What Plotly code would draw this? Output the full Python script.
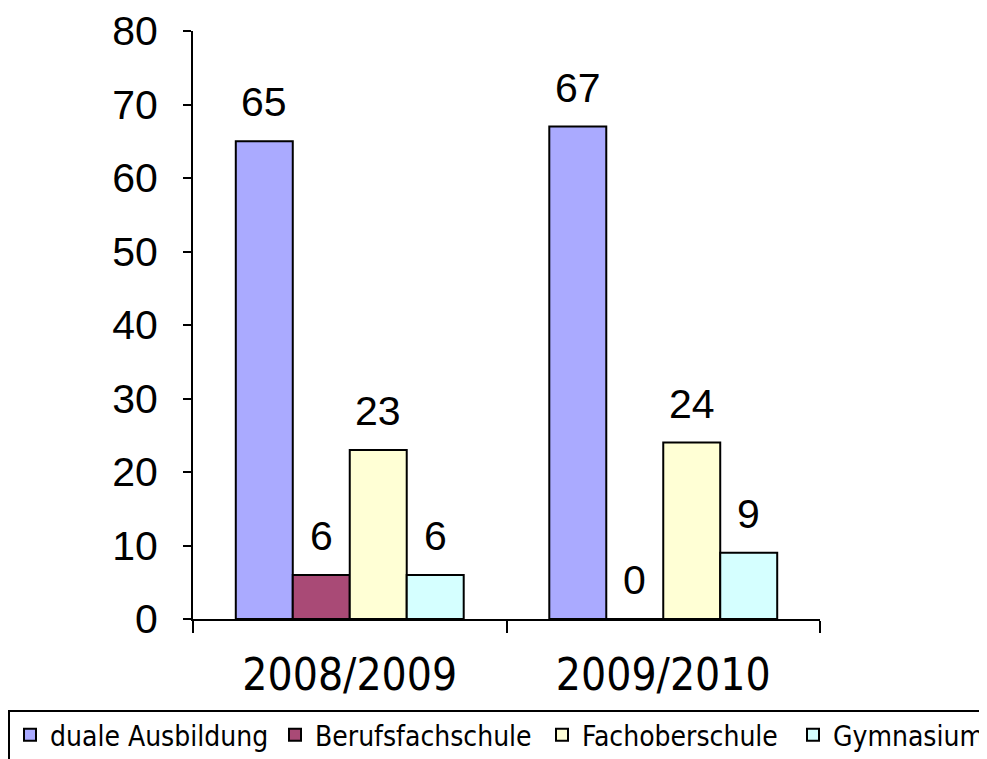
import plotly.graph_objects as go

categories = ["2008/2009", "2009/2010"]
series_names = ["duale Ausbildung", "Berufsfachschule", "Fachoberschule", "Gymnasium"]
duale = [65, 67]
berufsfach = [6, 0]
fachober = [23, 24]
gymnasium = [6, 9]
colors = ["#AAAAFF", "#A94A76", "#FFFFD5", "#D5FFFF"]
y_ticks = [0, 10, 20, 30, 40, 50, 60, 70, 80]

values = [duale, berufsfach, fachober, gymnasium]
bargap = 0.273
bw = (1 - bargap) / len(series_names)

# page offset (body margin) = 8 px
W, H = 987, 759
ml, mr, mt, mb = 185, 175, 23, 148
pw = W - ml - mr
ph = H - mt - mb

legend_text_starts = [50, 315, 582, 833]  # page px where legend labels begin
legend_font = dict(family="DejaVu Sans Condensed, Liberation Sans", size=28, color="black")

fig = go.Figure()
annotations = []
legend_names = ["legend", "legend2", "legend3", "legend4"]
for j, (name, vals, col) in enumerate(zip(series_names, values, colors)):
    fig.add_trace(go.Bar(
        x=categories, y=vals, name=name, legend=legend_names[j],
        marker=dict(color=col, line=dict(color="black", width=2)),
    ))
    for ci, v in enumerate(vals):
        annotations.append(dict(
            x=ci + (j - 1.5) * bw, y=v, xref="x", yref="y",
            text=str(v), showarrow=False, yanchor="middle", yshift=39,
            font=dict(family="Liberation Sans, Arial", size=41, color="black"),
        ))

legend_y = (ph + mt - (735 - 8)) / ph
legends = {}
for j, ln in enumerate(legend_names):
    lx = (legend_text_starts[j] - 8 - 40 - ml) / pw
    legends[ln] = dict(
        orientation="h", x=lx, y=legend_y, xanchor="left", yanchor="middle",
        borderwidth=0, bgcolor="rgba(0,0,0,0)", font=legend_font,
        itemwidth=30,
    )

fig.update_layout(
    width=W, height=H,
    margin=dict(l=ml, r=mr, t=mt, b=mb, autoexpand=False),
    paper_bgcolor="white", plot_bgcolor="white",
    barmode="group", bargap=bargap, bargroupgap=0,
    annotations=annotations,
    showlegend=True,
    shapes=[dict(
        type="rect", xref="paper", yref="paper",
        x0=(9 - 8 - ml) / pw, x1=(W + 20 - ml) / pw,
        y0=(ph + mt - (711 - 8)) / ph, y1=(ph + mt - (H + 20)) / ph,
        line=dict(color="black", width=2), fillcolor="rgba(0,0,0,0)", layer="below",
    )],
    xaxis=dict(
        type="category", range=[-0.5, 1.5],
        showline=True, linecolor="black", linewidth=2,
        ticks="outside", tickson="boundaries", ticklen=12, tickwidth=2, tickcolor="black",
        tickfont=dict(family="DejaVu Sans Condensed, Liberation Sans", size=44, color="black"),
        ticklabelstandoff=16, showgrid=False,
    ),
    yaxis=dict(
        range=[0, 80], tickvals=y_ticks,
        showline=True, linecolor="black", linewidth=2,
        ticks="outside", ticklen=8, tickwidth=2, tickcolor="black",
        tickfont=dict(family="Liberation Sans, Arial", size=41, color="black"),
        ticklabelstandoff=17, showgrid=False, zeroline=False,
    ),
    **legends,
)

fig.write_html("out.html")
